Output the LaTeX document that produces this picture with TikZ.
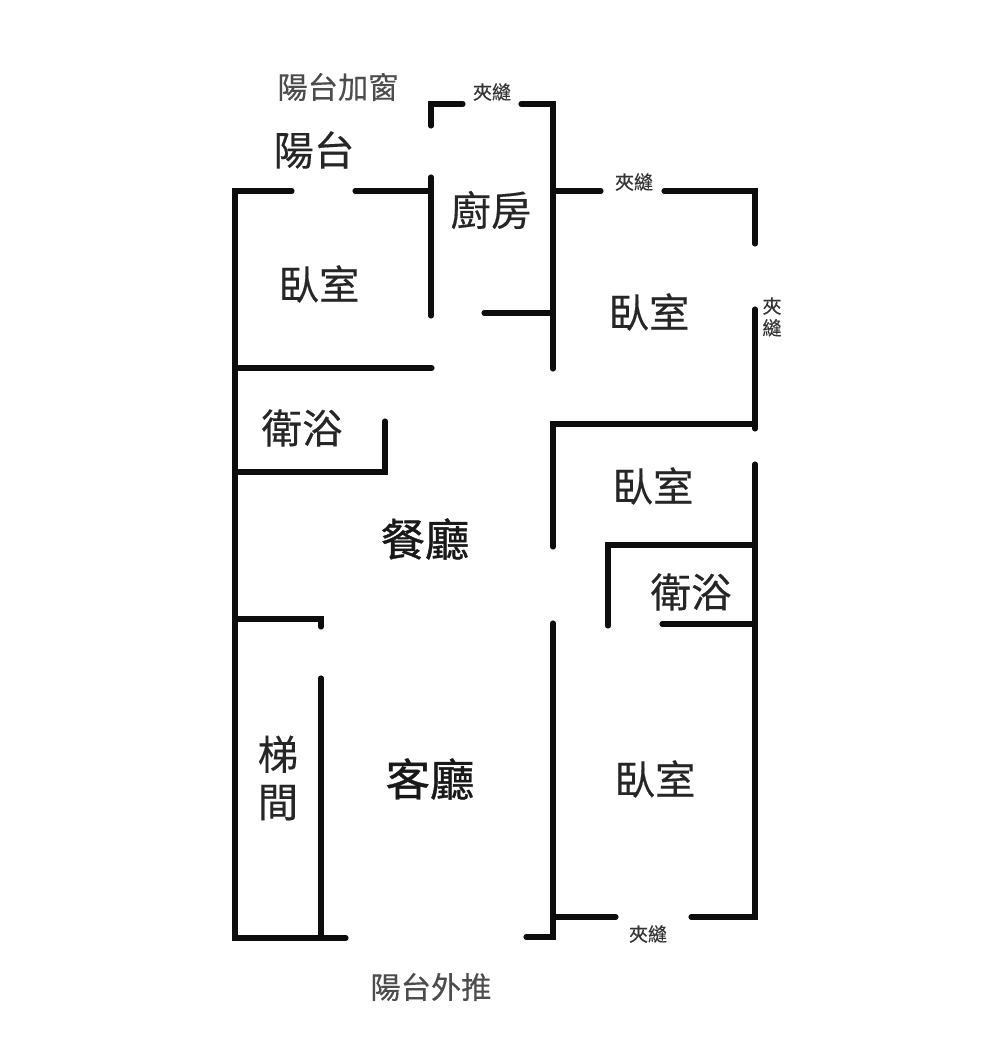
\documentclass[tikz,border=0pt]{standalone}
\usepackage{fontspec}
\setmainfont{Noto Sans CJK TC}
\newfontfamily\roomfont[FakeBold=0.3]{Noto Sans CJK TC}
\newfontfamily\hallfont[FakeBold=0.9]{Noto Sans CJK TC}
\tikzset{
	wall/.style={line width=1.45pt,line cap=round,line join=miter,black!95},
	room/.style={inner sep=0pt,font=\roomfont\fontsize{11.5pt}{13.5pt}\selectfont,text=black!85},
	hall/.style={inner sep=0pt,font=\hallfont\fontsize{12.6pt}{14pt}\selectfont,text=black!90},
	gap/.style={inner sep=0pt,font=\roomfont\fontsize{5.4pt}{6.2pt}\selectfont,text=black!80},
	note/.style={inner sep=0pt,font=\roomfont\fontsize{8.6pt}{10pt}\selectfont,text=black!70}
}
\begin{document}
\begin{tikzpicture}[x=0.01cm,y=-0.01cm]
		\useasboundingbox (0,0) rectangle (1000,1040);
		
		\node[note](addwin) at (338,87) {陽台加窗};
		\node[room](balcony) at (314,150) {陽台};
		\node[gap](gapK) at (492,92) {夾縫};
		\node[room](kitchen) at (491,210) {廚房};
		\node[gap](gapT) at (634,182) {夾縫};
		\node[gap,align=center](gapR) at (772,317) {夾\\縫};
		\node[room](bedNW) at (319,284) {臥室};
		\node[room](bedNE) at (649,312) {臥室};
		\node[room](bathW) at (302,428) {衛浴};
		\node[room](bedE) at (653,486) {臥室};
		\node[hall](dining) at (425,539) {餐廳};
		\node[room](bathE) at (691,592) {衛浴};
		\node[room](bedSE) at (655,779) {臥室};
		\node[hall](living) at (430,779) {客廳};
		\node[room,align=center](stairs) at (278,778) {梯\\間};
		\node[gap](gapB) at (648,934) {夾縫};
		\node[note](pushout) at (431,987) {陽台外推};
		
		\draw[wall] (292,191)--(235,191)--(235,938)--(346,938);
		\draw[wall] (355,191)--(431,191);
		\draw[wall] (431,177)--(431,316);
		\draw[wall] (431,126)--(431,104)--(463,104);
		\draw[wall] (521,104)--(553,104)--(553,369);
		\draw[wall] (484,313)--(553,313);
		\draw[wall] (235,368)--(432,368);
		\draw[wall] (553,191)--(601,191);
		\draw[wall] (664,191)--(755,191)--(755,244);
		\draw[wall] (755,309)--(755,429);
		\draw[wall] (553,547)--(553,424)--(755,424);
		\draw[wall] (755,464)--(755,917)--(691,917);
		\draw[wall] (608,626)--(608,545)--(755,545);
		\draw[wall] (662,624)--(755,624);
		\draw[wall] (385,421)--(385,472)--(235,472);
		\draw[wall] (235,619)--(321,619)--(321,627);
		\draw[wall] (321,678)--(321,938);
		\draw[wall] (526,937)--(553,937)--(553,623);
		\draw[wall] (553,917)--(616,917);
	\end{tikzpicture}
\end{document}
